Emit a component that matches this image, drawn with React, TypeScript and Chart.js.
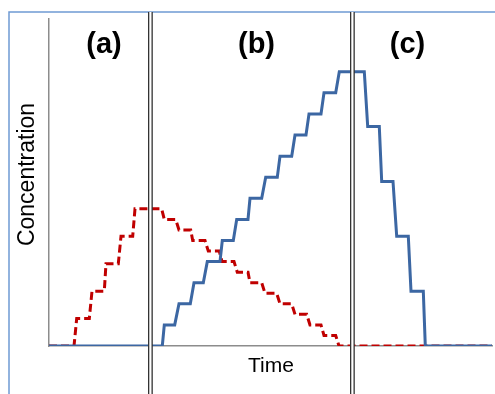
import React, { useEffect, useRef } from "react";
import { Chart, registerables } from "chart.js";

Chart.register(...registerables);

// Time (arbitrary units) and concentration (arbitrary units)
const blueTime = [0, 113.3, 115.3, 125.7, 130, 141.3, 145, 154.3, 158.3, 171, 173.3, 184.3, 187.7, 199, 201, 212.7, 216.7, 228.3, 231, 242.7, 246, 257, 260, 272, 275, 286.7, 290.3, 315.3, 318.7, 330.3, 332.7, 344, 347.7, 359.3, 362, 374.3, 376.3, 443];
const blueConc = [0, 0, 1, 1, 2, 2, 3, 3, 4, 4, 5, 5, 6, 6, 7, 7, 8, 8, 9, 9, 10, 10, 11, 11, 12, 12, 13, 13, 10.4, 10.4, 7.8, 7.8, 5.2, 5.2, 2.6, 2.6, 0, 0];

const redTime = [0, 25, 27.7, 40.3, 43, 55.3, 57, 69.3, 72, 83.7, 86, 112.7, 115.3, 126.7, 130, 141.7, 143.7, 156, 159.3, 170.3, 173, 185, 188.3, 199, 201, 212.7, 216, 227.7, 231, 242.7, 246, 257.7, 261, 272, 275, 286.7, 290, 443];
const redConc = [0, 0, 1.3, 1.3, 2.6, 2.6, 3.9, 3.9, 5.2, 5.2, 6.5, 6.5, 6.0, 6.0, 5.5, 5.5, 5.0, 5.0, 4.5, 4.5, 4.0, 4.0, 3.5, 3.5, 3.0, 3.0, 2.5, 2.5, 2.0, 2.0, 1.5, 1.5, 1.0, 1.0, 0.5, 0.5, 0, 0];

const phaseLabels = ["(a)", "(b)", "(c)"];
const phaseLabelTimes = [55, 207.5, 358.5];
const phaseBoundaries = [100.5, 303];

const xTitle = "Time";
const yTitle = "Concentration";

const X_MAX = 443;
const Y_MAX = 15.5;

const overlay = {
  id: "overlay",
  afterDatasetsDraw(chart: any) {
    const { ctx, chartArea, scales } = chart;
    const xs = scales.x;
    ctx.save();
    // outer frame
    ctx.strokeStyle = "#6F9AD3";
    ctx.lineWidth = 1.5;
    ctx.beginPath();
    ctx.moveTo(9, 400);
    ctx.lineTo(9, 12);
    ctx.lineTo(500, 12);
    ctx.stroke();

    // double vertical lines
    phaseBoundaries.forEach((t) => {
      const px = Math.round(xs.getPixelForValue(t));
      ctx.fillStyle = "#ffffff";
      ctx.fillRect(px - 1, 12, 3, 400);
      ctx.fillStyle = "#333333";
      ctx.fillRect(px - 2, 12, 1.3, 400);
      ctx.fillRect(px + 1.5, 12, 1.3, 400);
    });

    // phase labels
    ctx.fillStyle = "#000000";
    ctx.font = "bold 29px 'Liberation Sans', Arial, sans-serif";
    ctx.textAlign = "center";
    ctx.textBaseline = "alphabetic";
    phaseLabels.forEach((lab, i) => {
      ctx.fillText(lab, xs.getPixelForValue(phaseLabelTimes[i]), 53);
    });

    // axis titles
    ctx.font = "21px 'Liberation Sans', Arial, sans-serif";
    ctx.textBaseline = "middle";
    ctx.fillText(xTitle, (chartArea.left + chartArea.right) / 2 + 0.5, 366);
    ctx.save();
    ctx.font = "23px 'Liberation Sans', Arial, sans-serif";
    ctx.translate(28, 174.5);
    ctx.rotate(-Math.PI / 2);
    ctx.fillText(yTitle, 0, 0);
    ctx.restore();
    ctx.restore();
  },
};

export default function App() {
  const ref = useRef<HTMLCanvasElement | null>(null);
  useEffect(() => {
    if (!ref.current) return;
    const chart = new Chart(ref.current, {
      type: "line",
      data: {
        datasets: [
          {
            label: "B",
            data: blueTime.map((t, i) => ({ x: t, y: blueConc[i] })),
            borderColor: "#3C67A3",
            borderWidth: 3,
            pointRadius: 0,
            tension: 0,
            borderJoinStyle: "miter",
            fill: false,
          },
          {
            label: "A",
            data: redTime.map((t, i) => ({ x: t, y: redConc[i] })),
            borderColor: "#C00000",
            borderWidth: 3,
            borderDash: [8, 4],
            pointRadius: 0,
            tension: 0,
            borderJoinStyle: "miter",
            fill: false,
          },
        ],
      },
      options: {
        animation: false,
        responsive: false,
        devicePixelRatio: 1,
        layout: { padding: { left: 49, top: 19, right: 3, bottom: 48 } },
        plugins: { legend: { display: false }, tooltip: { enabled: false } },
        scales: {
          x: {
            type: "linear",
            min: 0,
            max: X_MAX,
            grid: { display: false, drawTicks: false },
            ticks: { display: false },
            border: { display: true, color: "#8C8C8C", width: 1.5 },
          },
          y: {
            type: "linear",
            min: 0,
            max: Y_MAX,
            grid: { display: false, drawTicks: false },
            ticks: { display: false },
            border: { display: true, color: "#8C8C8C", width: 1.5 },
          },
        },
      },
      plugins: [overlay],
    });
    return () => chart.destroy();
  }, []);
  return (
    <div style={{ position: "absolute", left: 0, top: 0, width: 495, height: 394, background: "#fff" }}>
      <canvas ref={ref} width={495} height={394} />
    </div>
  );
}
